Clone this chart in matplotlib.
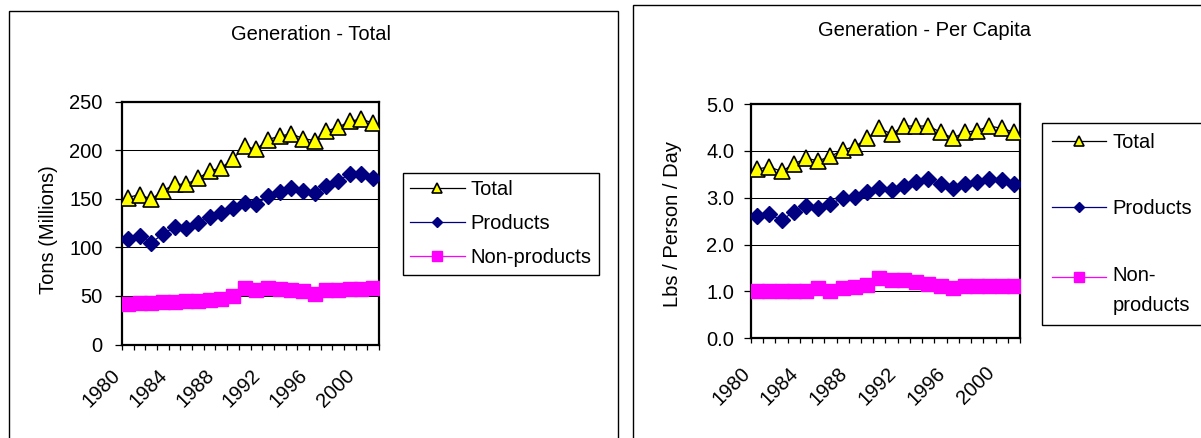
import matplotlib
matplotlib.use('Agg')
import matplotlib.pyplot as plt
import numpy as np
from matplotlib.patches import Rectangle
from matplotlib.transforms import ScaledTranslation, Affine2D
from matplotlib.legend_handler import HandlerLine2D
from matplotlib.ticker import FormatStrFormatter

plt.rcParams['font.family'] = ['Liberation Sans', 'DejaVu Sans']

# ---------------- data ----------------
years = list(range(1980, 2002))
year_labels = [str(y) for y in years[::4]]

total_tons = [151.3, 154.4, 149.6, 158.2, 165.0, 165.0, 171.0, 178.5, 182.0, 191.0, 204.0,
              201.0, 211.0, 214.6, 217.0, 212.0, 210.0, 220.0, 223.5, 230.0, 232.0, 228.0]
products_tons = [108.3, 111.8, 104.9, 113.5, 121.0, 120.4, 125.5, 131.4, 135.5, 141.0, 145.8,
                 144.4, 152.7, 157.2, 161.6, 158.2, 156.5, 163.3, 168.5, 175.4, 176.0, 171.0]
nonproducts_tons = [42.0, 42.5, 43.0, 43.5, 44.0, 44.5, 45.0, 46.0, 47.0, 50.0, 58.5,
                    55.7, 58.5, 57.4, 56.4, 55.0, 52.3, 55.7, 56.4, 56.7, 57.4, 58.5]

total_pc = [3.61, 3.66, 3.56, 3.72, 3.84, 3.79, 3.88, 4.02, 4.09, 4.27, 4.48,
            4.36, 4.53, 4.53, 4.53, 4.40, 4.27, 4.40, 4.43, 4.53, 4.48, 4.40]
products_pc = [2.61, 2.65, 2.52, 2.70, 2.82, 2.77, 2.87, 2.99, 3.02, 3.13, 3.21,
               3.16, 3.25, 3.34, 3.39, 3.29, 3.20, 3.29, 3.34, 3.41, 3.38, 3.29]
nonproducts_pc = [1.02, 1.02, 1.02, 1.02, 1.02, 1.08, 1.02, 1.08, 1.09, 1.13, 1.29,
                  1.25, 1.25, 1.20, 1.16, 1.12, 1.07, 1.12, 1.12, 1.12, 1.12, 1.12]

series_labels = ['Total', 'Products', 'Non-products']

# ---------------- figure ----------------
W, H = 1201, 438
fig = plt.figure(figsize=(W / 100, H / 100), dpi=100)


def fx(px):
    return px / W


def fy(py):
    return 1 - py / H


FS = 14.5

# outer panel boxes
fig.patches.append(Rectangle((fx(9), -0.05), fx(618) - fx(9), fy(11) + 0.05,
                             transform=fig.transFigure, fill=False,
                             edgecolor='black', lw=1))
fig.patches.append(Rectangle((fx(633), -0.05), 0.5, fy(5) + 0.05,
                             transform=fig.transFigure, fill=False,
                             edgecolor='black', lw=1))

axL = fig.add_axes([fx(122), fy(344.5), fx(379) - fx(122), fy(101.7) - fy(344.5)])
axR = fig.add_axes([fx(751), fy(338.3), fx(1020) - fx(751), fy(104) - fy(338.3)])


def style(ax, ymax, ystep, fmt, xpad, ypad, dx_px):
    ax.set_xlim(years[0] - 0.5, years[-1] + 0.5)
    ax.set_ylim(0, ymax)
    ax.set_yticks(np.arange(0, ymax + ystep / 2, ystep))
    ax.yaxis.set_major_formatter(FormatStrFormatter(fmt))
    ax.set_xticks(years[::4])
    ax.set_xticklabels(year_labels)
    ax.set_xticks(np.arange(years[0] - 0.5, years[-1] + 1.0, 1.0), minor=True)
    ax.tick_params(axis='x', which='major', length=0, pad=xpad, labelsize=FS)
    ax.tick_params(axis='x', which='minor', length=3.6, width=0.9, direction='out')
    ax.tick_params(axis='y', which='major', length=5, width=0.9, direction='out',
                   labelsize=FS, pad=ypad)
    ax.grid(axis='y', color='black', lw=0.75)
    ax.set_axisbelow(True)
    for s in ax.spines.values():
        s.set_linewidth(1.6)
        s.set_color('black')
    off = ScaledTranslation(dx_px / 100, 0, fig.dpi_scale_trans)
    for lab in ax.get_xticklabels():
        lab.set_rotation(45)
        lab.set_ha('right')
        lab.set_va('top')
        lab.set_rotation_mode('anchor')
        lab.set_transform(lab.get_transform() + off)


def draw(ax, tot, prod, nonp):
    l1, = ax.plot(years, tot, color='black', lw=0.9, marker='^', ms=11,
                  mfc='#FFFF00', mec='black', mew=1.2, label=series_labels[0], zorder=5)
    l2, = ax.plot(years, prod, color='#000080', lw=0.9, marker='D', ms=8.5,
                  mfc='#000080', mec='#000080', label=series_labels[1], zorder=4)
    l3, = ax.plot(years, nonp, color='#FF00FF', lw=0.9, marker='s', ms=10,
                  mfc='#FF00FF', mec='#FF00FF', label=series_labels[2], zorder=3)
    return l1, l2, l3


hL = draw(axL, total_tons, products_tons, nonproducts_tons)
hR = draw(axR, total_pc, products_pc, nonproducts_pc)

style(axL, 250, 50, '%d', 15.5, 9, -17)
style(axR, 5.0, 1.0, '%.1f', 18.0, 7, -17)

# titles and axis labels
fig.text(fx(311), fy(34), 'Generation - Total', ha='center', va='center', fontsize=FS)
fig.text(fx(925), fy(31), 'Generation - Per Capita', ha='center', va='center', fontsize=FS)
fig.text(fx(49), fy(230), 'Tons (Millions)', rotation=90, ha='center', va='center', fontsize=FS)
fig.text(fx(673), fy(224), 'Lbs / Person / Day', rotation=90, ha='center', va='center', fontsize=FS)


class ShiftedHandler(HandlerLine2D):
    def __init__(self, dy, **kw):
        super().__init__(**kw)
        self.dy = dy

    def create_artists(self, legend, orig_handle, xdescent, ydescent, width, height,
                       fontsize, trans):
        trans = Affine2D().translate(0, self.dy) + trans
        return super().create_artists(legend, orig_handle, xdescent, ydescent, width,
                                      height, fontsize, trans)


legL = axL.legend(hL, series_labels, loc='upper left',
                  bbox_to_anchor=(fx(403), fy(173)), bbox_transform=fig.transFigure,
                  borderaxespad=0, fancybox=False, frameon=True, edgecolor='black',
                  framealpha=1, fontsize=FS, handlelength=2.7, handletextpad=0.3,
                  borderpad=0.36, labelspacing=0.75, markerscale=0.65)
legL.get_frame().set_linewidth(1.0)

legR = axR.legend(hR, ['Total', 'Products', 'Non-\nproducts'], loc='upper left',
                  bbox_to_anchor=(fx(1042), fy(123)), bbox_transform=fig.transFigure,
                  borderaxespad=0, fancybox=False, frameon=True, edgecolor='black',
                  framealpha=1, fontsize=FS, handlelength=2.7, handletextpad=0.3,
                  borderpad=0.5, labelspacing=2.35, markerscale=0.65,
                  handler_map={hR[2]: ShiftedHandler(10.0)})
legR.get_frame().set_linewidth(1.0)
for t in legR.get_texts():
    t.set_linespacing(1.75)

fig.savefig('out.png', dpi=100)
